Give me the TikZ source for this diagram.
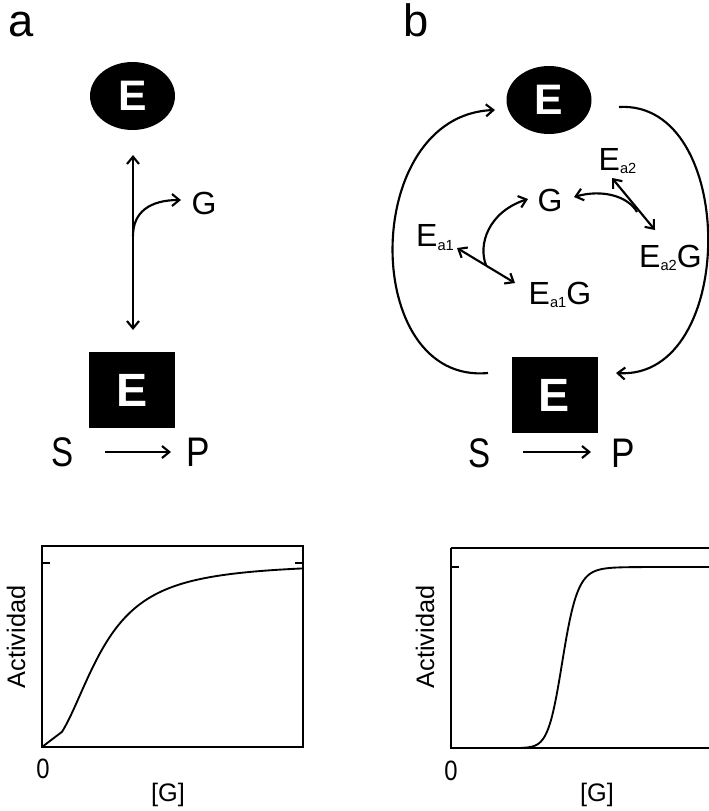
\documentclass[tikz,border=0pt]{standalone}
\usepackage{fontspec}
\setmainfont{Liberation Sans}
\usetikzlibrary{arrows.meta,shapes.geometric}
\newcommand{\fs}[1]{\fontsize{#1}{#1}\selectfont}
\newcommand{\sub}[1]{\raisebox{-2.5pt}{\fs{11}#1}}
\begin{document}
\begin{tikzpicture}[x=0.75pt,y=-0.75pt,
  conn/.style={line width=1.6pt, -{Straight Barb[length=5.5pt,width=9pt]}},
  dconn/.style={line width=1.6pt, {Straight Barb[length=5.5pt,width=9pt]}-{Straight Barb[length=5.5pt,width=9pt]}},
  enzcirc/.style={ellipse, fill=black, minimum width=63.75pt, minimum height=51pt, inner sep=0pt, text=white, font=\fs{32}\bfseries},
  enzbox/.style={rectangle, fill=black, minimum width=64.5pt, minimum height=57pt, inner sep=0pt, text=white, font=\fs{35}\bfseries},
  panel/.style={inner sep=0pt, font=\fs{34}},
  big/.style={inner sep=0pt, font=\fs{31}},
  lbl/.style={inner sep=0pt, font=\fs{24}},
  axlbl/.style={inner sep=0pt, font=\fs{19}},
  axis/.style={line width=1.4pt},
  curve/.style={line width=1.4pt}
]
\useasboundingbox (0,0) rectangle (709,811);

% ---------------- panel a ----------------
\node[panel] (la) at (21,25) {a};
\node[enzcirc] (Ea) at (132.5,96) {E};
\node[enzbox] (Ba) at (132,390) {E};
\node[lbl] (Ga) at (204,203) {G};
\node[big] (Sa) at (63,452) {\scalebox{0.8}[1]{S}};
\node[big] (Pa) at (198,452) {\scalebox{0.85}[1]{P}};

\coordinate (a1) at (133,155);
\coordinate (a2) at (133,330);
\coordinate (aj) at (133,236);
\coordinate (ag) at (181,200);
\draw[dconn] (a1) -- (a2);
\draw[conn] (aj) .. controls (133,212) and (150,200) .. (ag);

\coordinate (sa1) at (105,452);
\coordinate (sa2) at (171,452);
\draw[conn] (sa1) -- (sa2);

% ---------------- panel b ----------------
\node[panel] (lb) at (416,20) {b};
\node[enzcirc] (Eb) at (549,100) {E};
\node[enzbox] (Bb) at (554.5,395) {E};
\node[lbl] (Gb) at (550,200) {G};
\node[lbl] (Ea1) at (435,237.5) {E\sub{a1}};
\node[lbl] (Ea1G) at (560,295) {E\sub{a1}G};
\node[lbl] (Ea2) at (617.5,161) {E\sub{a2}};
\node[lbl] (Ea2G) at (670.5,258) {E\sub{a2}G};
\node[big] (Sb) at (480,453) {\scalebox{0.8}[1]{S}};
\node[big] (Pb) at (623,453) {\scalebox{0.85}[1]{P}};

% outer cycle arcs
\coordinate (l1) at (488,373);
\coordinate (l2) at (495,110);
\coordinate (r1) at (619,107);
\coordinate (r2) at (616,373);
\draw[conn] (l1) .. controls (360,385) and (360,115) .. (l2);
\draw[conn] (r1) .. controls (738,100) and (738,380) .. (r2);

% inner exchange arrows
\coordinate (e1t) at (457,248);
\coordinate (e1g) at (515,283);
\coordinate (j1) at (486,265);
\coordinate (g1) at (528,199);
\draw[dconn] (e1t) -- (e1g);
\draw[conn] (j1) .. controls (478,245) and (488,212) .. (g1);

\coordinate (e2t) at (612,178);
\coordinate (e2g) at (655,230);
\coordinate (j2) at (637,212);
\coordinate (g2) at (574,197);
\draw[dconn] (e2t) -- (e2g);
\draw[conn] (j2) .. controls (628,196) and (602,189) .. (g2);

\coordinate (sb1) at (523,452);
\coordinate (sb2) at (591,452);
\draw[conn] (sb1) -- (sb2);

% ---------------- plot a ----------------
\draw[axis] (42,546) rectangle (303,747);
\draw[axis] (42,563) -- (50,563);
\draw[axis] (295,563) -- (303,563);
\draw[curve] (42,747) -- plot[domain=20:261, samples=120, smooth]
  ({42+\x},{747-184*((\x/57)^2.3)/(1+(\x/57)^2.3)});
\node[axlbl, rotate=90] (ya) at (16,637) {Actividad};
\node[axlbl] (za) at (43,769) {\scalebox{0.85}[1]{\fs{21}0}};
\node[axlbl] (xa) at (168,795) {[G]};

% ---------------- plot b ----------------
\draw[axis] (451,548) -- (451,748) -- (715,748);
\draw[axis] (451,548) -- (715,548);
\draw[axis] (451,567) -- (459,567);
\draw[curve] plot[domain=70:264, samples=150, smooth]
  ({451+\x},{748-181/(1+(112/\x)^15)});
\node[axlbl, rotate=90] (yb) at (425,637) {Actividad};
\node[axlbl] (zb) at (451,771) {\scalebox{0.85}[1]{\fs{21}0}};
\node[axlbl] (xb) at (597,795) {[G]};
\end{tikzpicture}
\end{document}
